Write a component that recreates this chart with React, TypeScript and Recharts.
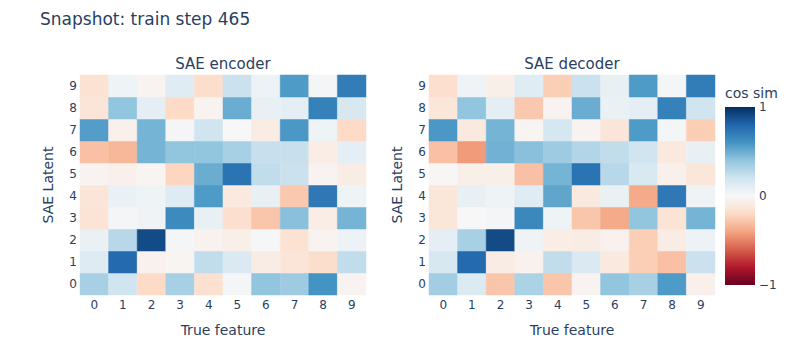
import { ScatterChart, Scatter, XAxis, YAxis, ReferenceArea, BarChart, Bar } from 'recharts';

const FEATURES = [0, 1, 2, 3, 4, 5, 6, 7, 8, 9];
const LATENTS = [0, 1, 2, 3, 4, 5, 6, 7, 8, 9];

// rows = SAE latent 0..9 (bottom to top), columns = true feature 0..9
const ENCODER = [
  [0.33, 0.2, -0.2, 0.33, -0.16, 0.02, 0.4, 0.36, 0.6, -0.03],
  [0.13, 0.78, -0.04, -0.02, 0.25, 0.15, -0.08, -0.13, -0.18, 0.25],
  [0.07, 0.28, 0.9, 0.02, -0.04, -0.06, 0.01, -0.15, -0.03, 0.06],
  [-0.14, 0.02, 0.04, 0.64, 0.08, -0.17, -0.28, 0.42, -0.07, 0.47],
  [-0.13, 0.07, 0.05, 0.13, 0.57, -0.1, 0.08, -0.27, 0.72, 0.05],
  [-0.03, -0.05, -0.02, -0.22, 0.5, 0.74, 0.25, 0.22, -0.03, -0.08],
  [-0.3, -0.33, 0.47, 0.4, 0.4, 0.33, 0.23, 0.23, -0.07, 0.1],
  [0.56, -0.05, 0.47, 0.02, 0.2, 0.0, -0.08, 0.58, 0.05, -0.2],
  [-0.13, 0.4, 0.1, -0.2, -0.03, 0.5, 0.08, 0.1, 0.68, 0.17],
  [-0.15, 0.05, -0.03, 0.12, -0.18, 0.22, 0.06, 0.57, 0.02, 0.7],
];

const DECODER = [
  [0.35, 0.14, -0.28, 0.32, -0.28, -0.03, 0.4, 0.33, 0.57, -0.05],
  [0.17, 0.78, -0.08, -0.04, 0.25, 0.15, -0.1, -0.25, -0.3, 0.22],
  [0.1, 0.33, 0.9, 0.04, -0.07, -0.08, -0.04, -0.25, -0.08, 0.06],
  [-0.12, 0.0, 0.02, 0.65, 0.05, -0.28, -0.38, 0.4, -0.14, 0.47],
  [-0.12, 0.08, 0.05, 0.12, 0.53, -0.1, 0.07, -0.38, 0.72, 0.04],
  [-0.01, -0.06, -0.06, -0.3, 0.47, 0.74, 0.28, 0.16, -0.05, -0.12],
  [-0.3, -0.43, 0.48, 0.42, 0.36, 0.3, 0.25, 0.2, -0.1, 0.08],
  [0.58, -0.1, 0.47, -0.02, 0.18, -0.03, -0.13, 0.57, 0.02, -0.25],
  [-0.12, 0.4, 0.1, -0.27, -0.03, 0.5, 0.07, 0.1, 0.68, 0.2],
  [-0.17, 0.04, -0.06, 0.12, -0.25, 0.22, 0.08, 0.57, 0.02, 0.7],
];

const CB_TICKS = [-1, 0, 1];

// RdBu, -1 -> dark red, +1 -> dark blue
const RDBU = [
  [103, 0, 31], [178, 24, 43], [214, 96, 77], [244, 165, 130], [253, 219, 199],
  [247, 247, 247], [209, 229, 240], [146, 197, 222], [67, 147, 195], [33, 102, 172], [5, 48, 97],
];

function color(v: number) {
  const t = Math.max(0, Math.min(1, (v + 1) / 2)) * 10;
  const i = Math.min(9, Math.floor(t));
  const f = t - i;
  const a = RDBU[i], b = RDBU[i + 1];
  const c = a.map((x, k) => Math.round(x + (b[k] - x) * f));
  return `rgb(${c[0]},${c[1]},${c[2]})`;
}

const FONT = '"DejaVu Sans", verdana, arial, sans-serif';
const INK = '#2a3f5f';
const tickStyle = { fill: INK, fontSize: 12, fontFamily: FONT };

function Heatmap({ title, values, left }: { title: string; values: number[][]; left: number }) {
  const cells = LATENTS.flatMap((y) => FEATURES.map((x) => ({ x, y, v: values[y][x] })));
  return (
    <div style={{ position: 'absolute', left, top: 0, width: 380, height: 347 }}>
      <div style={{ position: 'absolute', left: 80, width: 286, top: 55, textAlign: 'center', fontFamily: FONT, fontSize: 15, color: INK }}>
        {title}
      </div>
      <ScatterChart width={380} height={347} margin={{ top: 75, right: 14, bottom: 0, left: 16 }}>
        <XAxis
          type="number"
          dataKey="x"
          domain={[-0.5, 9.5]}
          ticks={FEATURES}
          interval={0}
          axisLine={false}
          tickLine={false}
          tickSize={0}
          tickMargin={5}
          height={52}
          tick={tickStyle}
          label={{ value: 'True feature', position: 'insideBottom', offset: 12, fill: INK, fontSize: 14, fontFamily: FONT }}
        />
        <YAxis
          type="number"
          dataKey="y"
          domain={[-0.5, 9.5]}
          ticks={LATENTS}
          interval={0}
          axisLine={false}
          tickLine={false}
          tickSize={0}
          tickMargin={3}
          width={64}
          tick={tickStyle}
          label={{ value: 'SAE Latent', angle: -90, position: 'center', fill: INK, fontSize: 14, fontFamily: FONT }}
        />
        {cells.map((c) => (
          <ReferenceArea
            key={`${c.x}-${c.y}`}
            x1={c.x - 0.5}
            x2={c.x + 0.5}
            y1={c.y - 0.5}
            y2={c.y + 0.5}
            fill={color(c.v)}
            fillOpacity={1}
            stroke={color(c.v)}
            strokeWidth={0.5}
          />
        ))}
        <Scatter data={cells} fill="none" stroke="none" shape={() => <g />} isAnimationActive={false} />
      </ScatterChart>
    </div>
  );
}

const CB_DATA = [{ name: 'cos sim', range: [-1, 1] }];

function ColorBar() {
  const stops = RDBU.map((_, i) => ({ off: i / 10, v: 1 - i / 5 }));
  return (
    <div style={{ position: 'absolute', left: 700, top: 0, width: 100, height: 347 }}>
      <div style={{ position: 'absolute', left: 25, top: 85, fontFamily: FONT, fontSize: 14, color: INK }}>cos sim</div>
      <BarChart width={100} height={347} data={CB_DATA} margin={{ top: 107, right: 5, bottom: 62, left: 25 }} barCategoryGap={0}>
        <defs>
          <linearGradient id="cbGrad" x1="0" y1="0" x2="0" y2="1">
            {stops.map((s, i) => (
              <stop key={i} offset={s.off} stopColor={color(s.v)} />
            ))}
          </linearGradient>
        </defs>
        <XAxis dataKey="name" hide />
        <YAxis
          orientation="right"
          type="number"
          domain={[-1, 1]}
          ticks={CB_TICKS}
          axisLine={false}
          tickLine={false}
          tickSize={0}
          tickMargin={4}
          width={40}
          tick={tickStyle}
          tickFormatter={(v: number) => (v < 0 ? '\u2212' + Math.abs(v) : String(v))}
        />
        <Bar dataKey="range" fill="url(#cbGrad)" isAnimationActive={false} />
      </BarChart>
    </div>
  );
}

export default function App() {
  return (
    <div style={{ position: 'absolute', left: 0, top: 0, width: 800, height: 347, background: '#fff', overflow: 'hidden' }}>
      <div style={{ position: 'absolute', left: 40, top: 9, fontFamily: FONT, fontSize: 17, color: INK }}>
        Snapshot: train step 465
      </div>
      <Heatmap title="SAE encoder" values={ENCODER} left={0} />
      <Heatmap title="SAE decoder" values={DECODER} left={349} />
      <ColorBar />
    </div>
  );
}
